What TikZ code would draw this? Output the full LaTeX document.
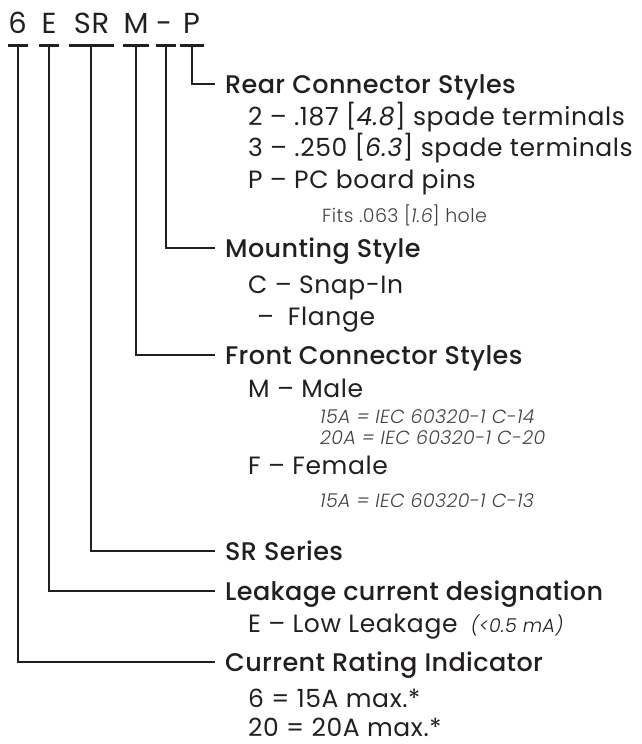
\documentclass[tikz,border=0pt]{standalone}
\usepackage{fontspec}
\setmainfont{Poppins}[LetterSpace=2.5]
\newfontfamily\headfont{Poppins Medium}[LetterSpace=1.5]
\newfontfamily\lightfont{Poppins Light}[LetterSpace=2]
\newfontfamily\lightitfont{Poppins Light Italic}[LetterSpace=2]
\definecolor{ink}{HTML}{231F20}

\begin{document}
\begin{tikzpicture}[x=1pt,y=-1pt]

\tikzset{code/.style = {anchor=base, inner sep=0pt, text=ink, font=\fontsize{29}{32}\selectfont}}
\tikzset{bar/.style = {fill=ink, inner sep=0pt, minimum height=3pt}}
\tikzset{head/.style = {anchor=base west, inner xsep=10pt, inner ysep=0pt, text height=18pt, text depth=0pt, text=ink, font=\headfont\fontsize{25.5}{28}\selectfont}}
\tikzset{item/.style = {anchor=base west, inner sep=0pt, text=ink, font=\fontsize{25}{28}\selectfont}}
\tikzset{note/.style = {anchor=base west, inner sep=0pt, text=ink!85, font=\lightitfont\fontsize{19}{21}\selectfont}}
\tikzset{conn/.style = {draw=ink, line width=1.5pt}}

\useasboundingbox (0,0) rectangle (642,744);

% part number
\node[code] (c6) at (17.5,33) {6};
\node[code] (cE) at (49,33) {E};
\node[code] (cSR) at (91.5,33) {SR};
\node[code] (cM) at (136,33) {M};
\node[code] (cD) at (164,33) {-};
\node[code] (cP) at (191.5,33) {P};

% bars
\node[bar, minimum width=20pt] (b6) at (18,45) {};
\node[bar, minimum width=20pt] (bE) at (49,45) {};
\node[bar, minimum width=45pt] (bSR) at (91,45) {};
\node[bar, minimum width=26pt] (bM) at (136,45) {};
\node[bar, minimum width=20pt] (bD) at (166,45) {};
\node[bar, minimum width=24pt] (bP) at (192,45) {};

% headings
\node[head] (rear) at (215,93) {Rear Connector Styles};
\node[head] (mount) at (215,257) {Mounting Style};
\node[head] (front) at (215,364) {Front Connector Styles};
\node[head] (series) at (215,560) {SR Series};
\node[head] (leak) at (215,600) {Leakage current designation};
\node[head] (rating) at (215,671) {Current Rating Indicator};

% items
\node[item] (rear2) at (248,125) {2 – .187 [\textit{4.8}] spade terminals};
\node[item] (rear3) at (248,156) {3 – .250 [\textit{6.3}] spade terminals};
\node[item] (rearP) at (248,188) {P – PC board pins};
\node[note, font=\lightfont\fontsize{19}{21}\selectfont] (rearFit) at (322,222) {Fits .063 [{\lightitfont 1.6}] hole};
\node[item] (mountC) at (248,293) {C – Snap-In};
\node[item] (mountF) at (257,325) {–\hspace{0.55em}Flange};
\node[item] (frontM) at (248,397) {M – Male};
\node[note] (frontM15) at (320,423) {15A = IEC 60320-1 C-14};
\node[note] (frontM20) at (320,444) {20A = IEC 60320-1 C-20};
\node[item] (frontF) at (248,474) {F – Female};
\node[note] (frontF15) at (320,507) {15A = IEC 60320-1 C-13};
\node[item] (leakE) at (248,632) {E – Low Leakage {\lightitfont\fontsize{19}{21}\selectfont\ (<0.5 mA)}};
\node[item] (rate6) at (248,707) {6 = 15A max.*};
\node[item] (rate20) at (248,736) {20 = 20A max.*};

% connectors
\draw[conn] (bP) |- (rear.west);
\draw[conn] (bD) |- (mount.west);
\draw[conn] (bM) |- (front.west);
\draw[conn] (bSR) |- (series.west);
\draw[conn] (bE) |- (leak.west);
\draw[conn] (b6) |- (rating.west);

\end{tikzpicture}
\end{document}
